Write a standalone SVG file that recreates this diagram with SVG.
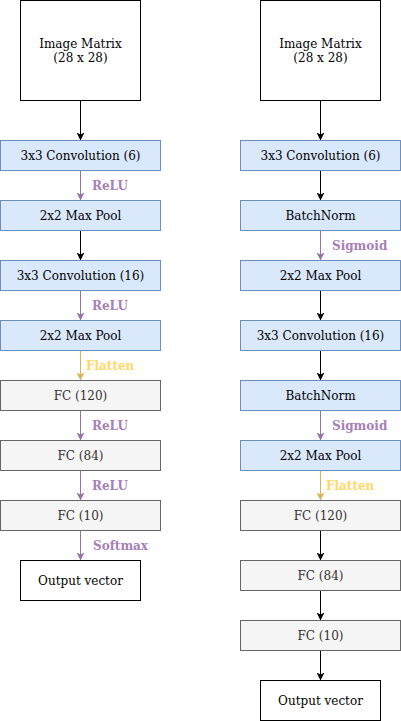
<svg xmlns="http://www.w3.org/2000/svg" width="401" height="721" viewBox="0 0 401 721">
<style>
text{font-family:"DejaVu Serif",serif;font-size:12px;text-anchor:middle;dominant-baseline:central}
.w{fill:#ffffff;stroke:#000000;stroke-width:1}
.b{fill:#dae8fc;stroke:#6c8ebf;stroke-width:1}
.g{fill:#f5f5f5;stroke:#666666;stroke-width:1}
.tg{fill:#333333}
.tb{fill:#000000}
.c{fill:none;stroke-width:1}
.k{stroke:#000000}
.p{stroke:#9673a6}
.y{stroke:#d6b656}
.lp{font-weight:bold;fill:#a680b8;text-anchor:start}
.ly{font-weight:bold;fill:#ffd966;text-anchor:start}
</style>
<defs>
<marker id="ak" markerUnits="userSpaceOnUse" markerWidth="8" markerHeight="8" refX="8" refY="4" orient="auto"><path d="M0,0 L8,4 L0,8 L2,4 Z" fill="#000000"/></marker>
<marker id="ap" markerUnits="userSpaceOnUse" markerWidth="8" markerHeight="8" refX="8" refY="4" orient="auto"><path d="M0,0 L8,4 L0,8 L2,4 Z" fill="#9673a6"/></marker>
<marker id="ay" markerUnits="userSpaceOnUse" markerWidth="8" markerHeight="8" refX="8" refY="4" orient="auto"><path d="M0,0 L8,4 L0,8 L2,4 Z" fill="#d6b656"/></marker>
</defs>
<g id="connectors">
<line class="c k" x1="80.5" y1="100.5" x2="80.5" y2="140.5" marker-end="url(#ak)"/>
<line class="c p" x1="80.5" y1="170.5" x2="80.5" y2="200.5" marker-end="url(#ap)"/>
<line class="c k" x1="80.5" y1="230.5" x2="80.5" y2="260.5" marker-end="url(#ak)"/>
<line class="c p" x1="80.5" y1="290.5" x2="80.5" y2="320.5" marker-end="url(#ap)"/>
<line class="c y" x1="80.5" y1="350.5" x2="80.5" y2="380.5" marker-end="url(#ay)"/>
<line class="c p" x1="80.5" y1="410.5" x2="80.5" y2="440.5" marker-end="url(#ap)"/>
<line class="c p" x1="80.5" y1="470.5" x2="80.5" y2="500.5" marker-end="url(#ap)"/>
<line class="c p" x1="80.5" y1="530.5" x2="80.5" y2="560.5" marker-end="url(#ap)"/>
<text class="lp" x="92" y="185.5">ReLU</text>
<text class="lp" x="92" y="305.5">ReLU</text>
<text class="ly" x="86" y="365.5">Flatten</text>
<text class="lp" x="92" y="425.5">ReLU</text>
<text class="lp" x="92" y="485.5">ReLU</text>
<text class="lp" x="93" y="545.5">Softmax</text>
<line class="c k" x1="320.5" y1="100.5" x2="320.5" y2="140.5" marker-end="url(#ak)"/>
<line class="c k" x1="320.5" y1="170.5" x2="320.5" y2="200.5" marker-end="url(#ak)"/>
<line class="c p" x1="320.5" y1="230.5" x2="320.5" y2="260.5" marker-end="url(#ap)"/>
<line class="c k" x1="320.5" y1="290.5" x2="320.5" y2="320.5" marker-end="url(#ak)"/>
<line class="c k" x1="320.5" y1="350.5" x2="320.5" y2="380.5" marker-end="url(#ak)"/>
<line class="c p" x1="320.5" y1="410.5" x2="320.5" y2="440.5" marker-end="url(#ap)"/>
<line class="c y" x1="320.5" y1="470.5" x2="320.5" y2="500.5" marker-end="url(#ay)"/>
<line class="c k" x1="320.5" y1="530.5" x2="320.5" y2="560.5" marker-end="url(#ak)"/>
<line class="c k" x1="320.5" y1="590.5" x2="320.5" y2="620.5" marker-end="url(#ak)"/>
<line class="c k" x1="320.5" y1="650.5" x2="320.5" y2="680.5" marker-end="url(#ak)"/>
<text class="lp" x="332" y="245.5">Sigmoid</text>
<text class="lp" x="332" y="425.5">Sigmoid</text>
<text class="ly" x="326" y="485.5">Flatten</text>
</g>
<g id="l-input"><rect class="w" x="20.5" y="0.5" width="120" height="100"/><text class="tb" x="80.5" y="43.5">Image Matrix</text><text class="tb" x="80.5" y="57.5">(28 x 28)</text></g>
<g id="l-conv1"><rect class="b" x="0.5" y="140.5" width="160" height="30"/><text class="tb" x="80.5" y="155.5">3x3 Convolution (6)</text></g>
<g id="l-pool1"><rect class="b" x="0.5" y="200.5" width="160" height="30"/><text class="tb" x="80.5" y="215.5">2x2 Max Pool</text></g>
<g id="l-conv2"><rect class="b" x="0.5" y="260.5" width="160" height="30"/><text class="tb" x="80.5" y="275.5">3x3 Convolution (16)</text></g>
<g id="l-pool2"><rect class="b" x="0.5" y="320.5" width="160" height="30"/><text class="tb" x="80.5" y="335.5">2x2 Max Pool</text></g>
<g id="l-fc120"><rect class="g" x="0.5" y="380.5" width="160" height="30"/><text class="tg" x="80.5" y="395.5">FC (120)</text></g>
<g id="l-fc84"><rect class="g" x="0.5" y="440.5" width="160" height="30"/><text class="tg" x="80.5" y="455.5">FC (84)</text></g>
<g id="l-fc10"><rect class="g" x="0.5" y="500.5" width="160" height="30"/><text class="tg" x="80.5" y="515.5">FC (10)</text></g>
<g id="l-output"><rect class="w" x="20.5" y="560.5" width="120" height="40"/><text class="tb" x="80.5" y="580.5">Output vector</text></g>
<g id="r-input"><rect class="w" x="260.5" y="0.5" width="120" height="100"/><text class="tb" x="320.5" y="43.5">Image Matrix</text><text class="tb" x="320.5" y="57.5">(28 x 28)</text></g>
<g id="r-conv1"><rect class="b" x="240.5" y="140.5" width="160" height="30"/><text class="tb" x="320.5" y="155.5">3x3 Convolution (6)</text></g>
<g id="r-bn1"><rect class="b" x="240.5" y="200.5" width="160" height="30"/><text class="tb" x="320.5" y="215.5">BatchNorm</text></g>
<g id="r-pool1"><rect class="b" x="240.5" y="260.5" width="160" height="30"/><text class="tb" x="320.5" y="275.5">2x2 Max Pool</text></g>
<g id="r-conv2"><rect class="b" x="240.5" y="320.5" width="160" height="30"/><text class="tb" x="320.5" y="335.5">3x3 Convolution (16)</text></g>
<g id="r-bn2"><rect class="b" x="240.5" y="380.5" width="160" height="30"/><text class="tb" x="320.5" y="395.5">BatchNorm</text></g>
<g id="r-pool2"><rect class="b" x="240.5" y="440.5" width="160" height="30"/><text class="tb" x="320.5" y="455.5">2x2 Max Pool</text></g>
<g id="r-fc120"><rect class="g" x="240.5" y="500.5" width="160" height="30"/><text class="tg" x="320.5" y="515.5">FC (120)</text></g>
<g id="r-fc84"><rect class="g" x="240.5" y="560.5" width="160" height="30"/><text class="tg" x="320.5" y="575.5">FC (84)</text></g>
<g id="r-fc10"><rect class="g" x="240.5" y="620.5" width="160" height="30"/><text class="tg" x="320.5" y="635.5">FC (10)</text></g>
<g id="r-output"><rect class="w" x="260.5" y="680.5" width="120" height="40"/><text class="tb" x="320.5" y="700.5">Output vector</text></g>
</svg>
